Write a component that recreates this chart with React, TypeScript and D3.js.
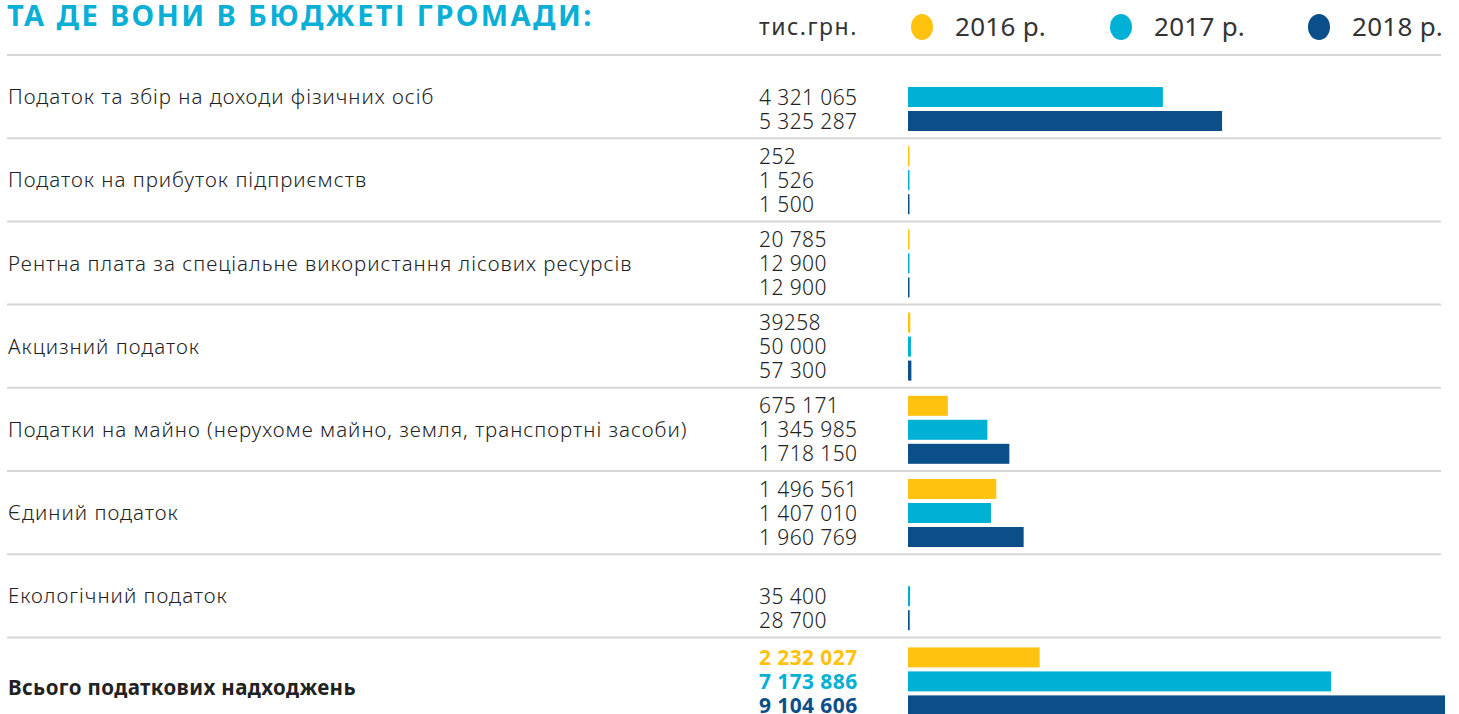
import { useEffect, useRef } from "react";
import * as d3 from "d3";

const categories = [
  "Податок та збір на доходи фізичних осіб",
  "Податок на прибуток підприємств",
  "Рентна плата за спеціальне використання лісових ресурсів",
  "Акцизний податок",
  "Податки на майно (нерухоме майно, земля, транспортні засоби)",
  "Єдиний податок",
  "Екологічний податок",
  "Всього податкових надходжень",
];

const years = ["2016 р.", "2017 р.", "2018 р."];

const values2016 = [null, 252, 20785, 39258, 675171, 1496561, null, 2232027];
const values2017 = [4321065, 1526, 12900, 50000, 1345985, 1407010, 35400, 7173886];
const values2018 = [5325287, 1500, 12900, 57300, 1718150, 1960769, 28700, 9104606];

const labels2016 = ["", "252", "20 785", "39258", "675 171", "1 496 561", "", "2 232 027"];
const labels2017 = ["4 321 065", "1 526", "12 900", "50 000", "1 345 985", "1 407 010", "35 400", "7 173 886"];
const labels2018 = ["5 325 287", "1 500", "12 900", "57 300", "1 718 150", "1 960 769", "28 700", "9 104 606"];

const colors = ["#FFC20E", "#00B1D6", "#0B4F8A"];
const font = "'Noto Sans', sans-serif";

const W = 1459;
const H = 714;

const App = () => {
  const ref = useRef<SVGSVGElement>(null);

  useEffect(() => {
    const svg = d3.select(ref.current);
    svg.selectAll("*").remove();

    const series = [values2016, values2017, values2018];
    const labels = [labels2016, labels2017, labels2018];
    const n = categories.length;

    // rows between horizontal separators
    const y = d3.scaleLinear().domain([0, n]).range([55, 55 + 83.2 * n]);
    const slot = d3.scaleLinear().domain([0, 2]).range([18, 66]);
    const x = d3.scaleLinear().domain([0, 9104606]).range([908, 1445]);

    // title
    svg
      .append("text")
      .attr("x", 7)
      .attr("y", 26)
      .attr("font-family", font)
      .attr("font-weight", 700)
      .attr("font-size", 29)
      .attr("letter-spacing", 2.4)
      .attr("fill", "#0AAFD6")
      .text("ТА ДЕ ВОНИ В БЮДЖЕТІ ГРОМАДИ:");

    // legend
    svg
      .append("text")
      .attr("x", 759)
      .attr("y", 35)
      .attr("font-family", font)
      .attr("font-size", 23)
      .attr("letter-spacing", 1.5)
      .attr("fill", "#333")
      .text("тис.грн.");

    const lx = [922, 1121, 1319];
    years.forEach((yr, i) => {
      svg
        .append("ellipse")
        .attr("cx", lx[i])
        .attr("cy", 27)
        .attr("rx", 11)
        .attr("ry", 13)
        .attr("fill", colors[i]);
      svg
        .append("text")
        .attr("x", lx[i] + 33)
        .attr("y", 36)
        .attr("font-family", font)
        .attr("font-size", 26)
        .attr("letter-spacing", 0.3)
        .attr("fill", "#333")
        .text(yr);
    });

    // separators
    d3.range(n).forEach((i) => {
      svg
        .append("line")
        .attr("x1", 7)
        .attr("x2", 1441)
        .attr("y1", y(i))
        .attr("y2", y(i))
        .attr("stroke", "#D6D6D6")
        .attr("stroke-width", 2);
    });

    categories.forEach((cat, i) => {
      const last = i === n - 1;
      const top = y(i) + (last ? 1 : 0);
      svg
        .append("text")
        .attr("x", 8)
        .attr("y", top + 42 + (last ? 7 : 0))
        .attr("dy", "0.35em")
        .attr("font-family", font)
        .attr("font-size", 20.5)
        .attr("letter-spacing", last ? 0.4 : 1.0)
        .attr("font-weight", last ? 700 : 300)
        .attr("fill", "#222")
        .text(cat);

      series.forEach((vals, s) => {
        const v = vals[i];
        if (v == null) return;
        const cy = top + slot(s) + (last ? 1 : 0);
        svg
          .append("text")
          .attr("x", 759)
          .attr("y", cy)
          .attr("dy", "0.36em")
          .attr("font-family", font)
          .attr("font-size", 21)
          .attr("letter-spacing", 0.4)
          .attr("font-weight", last ? 700 : 300)
          .attr("fill", last ? colors[s] : "#222")
          .text(labels[s][i]);
        svg
          .append("rect")
          .attr("x", x(0))
          .attr("y", cy - 10)
          .attr("width", Math.max(1.5, x(v) - x(0)))
          .attr("height", 20)
          .attr("fill", colors[s]);
      });
    });
  }, []);

  return (
    <svg
      ref={ref}
      width={W}
      height={H}
      style={{ position: "absolute", left: 0, top: 0, background: "#fff" }}
    />
  );
};

export default App;
